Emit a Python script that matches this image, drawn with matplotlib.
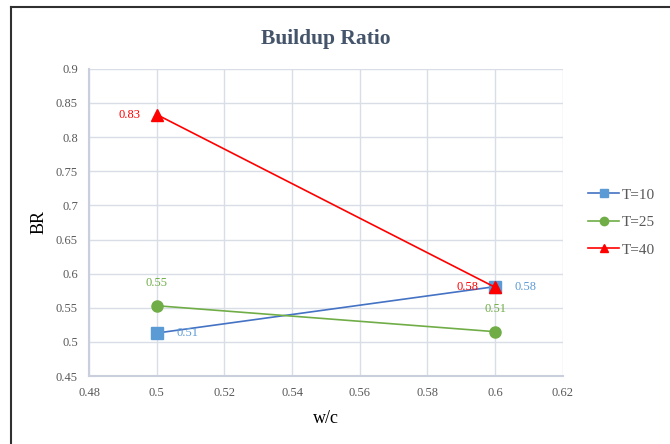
import matplotlib.pyplot as plt
from matplotlib.lines import Line2D

# data
wc = [0.5, 0.6]
br_t10 = [0.513, 0.581]
br_t25 = [0.553, 0.515]
br_t40 = [0.833, 0.580]
labels_t10 = ["0.51", "0.58"]
labels_t25 = ["0.55", "0.51"]
labels_t40 = ["0.83", "0.58"]

plt.rcParams['font.family'] = ['Liberation Serif', 'DejaVu Serif']

fig = plt.figure(figsize=(6.7, 4.44), dpi=100)
fig.set_facecolor('w')
# partial frame: left and top edge only, as in the reference crop
fig.lines.append(Line2D([10.5 / 670, 10.5 / 670], [0, 1 - 7 / 444], transform=fig.transFigure,
                        color='#303030', linewidth=1.5))
fig.lines.append(Line2D([10.5 / 670, 1], [1 - 7 / 444, 1 - 7 / 444], transform=fig.transFigure,
                        color='#303030', linewidth=1.5))
ax = fig.add_axes([0.133, 0.153, 0.707, 0.692])

ax.plot(wc, br_t10, color='#4472C4', linewidth=1.2, marker='s', markersize=8,
        markerfacecolor='#5B9BD5', markeredgecolor='#5B9BD5', label='T=10', zorder=3)
ax.plot(wc, br_t25, color='#70AD47', linewidth=1.2, marker='o', markersize=8,
        markerfacecolor='#70AD47', markeredgecolor='#70AD47', label='T=25', zorder=3)
ax.plot(wc, br_t40, color='#FF0000', linewidth=1.2, marker='^', markersize=8,
        markerfacecolor='#FF0000', markeredgecolor='#FF0000', label='T=40', zorder=4)

for x, y, t in zip(wc, br_t10, labels_t10):
    ax.annotate(t, (x, y), xytext=(14, 0), textcoords='offset points',
                ha='left', va='center', fontsize=9, color='#5B9BD5')
for x, y, t in zip(wc, br_t25, labels_t25):
    ax.annotate(t, (x, y), xytext=(0, 12), textcoords='offset points',
                ha='center', va='bottom', fontsize=9, color='#70AD47')
for x, y, t in zip(wc, br_t40, labels_t40):
    ax.annotate(t, (x, y), xytext=(-12, 0), textcoords='offset points',
                ha='right', va='center', fontsize=9, color='#FF0000')

ax.set_xlim(0.48, 0.62)
ax.set_ylim(0.45, 0.9)
ax.set_xticks([0.48, 0.5, 0.52, 0.54, 0.56, 0.58, 0.6, 0.62])
ax.set_xticklabels(["0.48", "0.5", "0.52", "0.54", "0.56", "0.58", "0.6", "0.62"])
ax.set_yticks([0.45, 0.5, 0.55, 0.6, 0.65, 0.7, 0.75, 0.8, 0.85, 0.9])
ax.set_yticklabels(["0.45", "0.5", "0.55", "0.6", "0.65", "0.7", "0.75", "0.8", "0.85", "0.9"])
ax.tick_params(axis='both', length=0, labelsize=9, labelcolor='#595959', pad=8)

ax.grid(True, color='#D9DDE6', linewidth=1)
ax.set_axisbelow(True)
for s in ['top', 'right']:
    ax.spines[s].set_visible(False)
for s in ['left', 'bottom']:
    ax.spines[s].set_color('#C9CFDC')
    ax.spines[s].set_linewidth(1.5)

ax.set_xlabel('w/c', fontsize=13, labelpad=8)
ax.set_ylabel('BR', fontsize=13, labelpad=6)
ax.set_title('Buildup Ratio', fontsize=15.5, fontweight='bold', color='#44546A', pad=18)

ax.legend(loc='center left', bbox_to_anchor=(1.025, 0.5), frameon=False,
          fontsize=11, labelcolor='#595959', handlelength=2.0, handletextpad=0.2,
          labelspacing=0.9, markerscale=0.75)

plt.savefig('out.png', dpi=100)
